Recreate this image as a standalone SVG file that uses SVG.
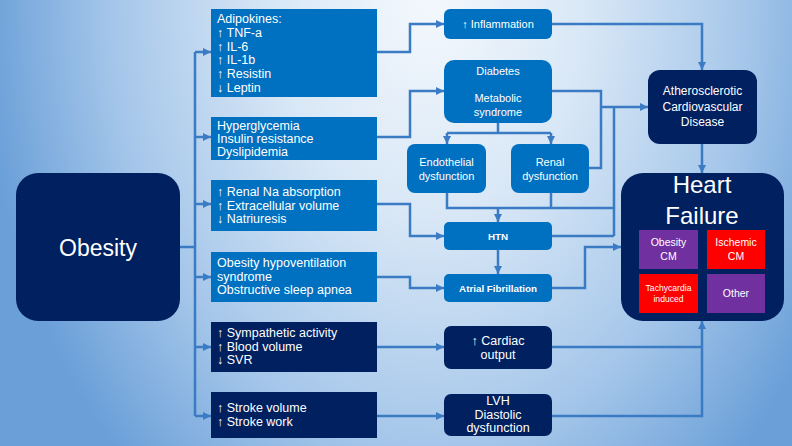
<svg xmlns="http://www.w3.org/2000/svg" width="792" height="446" viewBox="0 0 792 446">
<defs>
<radialGradient id="bg" gradientUnits="userSpaceOnUse" cx="430" cy="0" r="450" gradientTransform="translate(430,0) scale(1,1.4) translate(-430,0)">
<stop offset="0" stop-color="#f4f8fd"/>
<stop offset="0.35" stop-color="#d8e7f6"/>
<stop offset="0.7" stop-color="#a6c7ea"/>
<stop offset="1" stop-color="#6a9fd8"/>
</radialGradient>
<marker id="ah" markerUnits="userSpaceOnUse" markerWidth="8" markerHeight="8" refX="8" refY="4" orient="auto">
<path d="M0,0 L8,4 L0,8 z" fill="#3a7bc4"/>
</marker>
<style>
.mid{fill:#0070c0}
.dark{fill:#002060}
.t{font-family:"Liberation Sans",Arial,sans-serif;fill:#ffffff}
.l{font-size:12.5px}
.c{text-anchor:middle}
.con path{fill:none;stroke:#3a7bc4;stroke-width:2.5}
.arr{marker-end:url(#ah)}
</style>
</defs>
<rect width="792" height="446" fill="url(#bg)"/>

<g id="connectors" class="con">
<path d="M180,247 H195"/>
<path d="M195,52 V416"/>
<path class="arr" d="M195,52 H211"/>
<path class="arr" d="M195,137 H211"/>
<path class="arr" d="M195,204 H211"/>
<path class="arr" d="M195,277 H211"/>
<path class="arr" d="M195,347 H211"/>
<path class="arr" d="M195,416 H211"/>
<path class="arr" d="M377,52 H410 V24 H444"/>
<path class="arr" d="M377,137 H410 V91 H444"/>
<path class="arr" d="M377,204 H410 V236 H444"/>
<path class="arr" d="M377,277 H410 V288 H444"/>
<path class="arr" d="M377,347 H444"/>
<path class="arr" d="M377,416 H444"/>
<path class="arr" d="M552,24 H702 V70"/>
<path d="M552,91 H601 V168 H589"/>
<path class="arr" d="M601,107 H648"/>
<path d="M614,107 V236"/>
<path d="M552,236 H614"/>
<path d="M498,123 V133"/>
<path d="M447,133 H551"/>
<path class="arr" d="M447,133 V144"/>
<path class="arr" d="M551,133 V144"/>
<path d="M447,193 V208 H614"/>
<path d="M551,193 V208"/>
<path class="arr" d="M498,208 V222"/>
<path class="arr" d="M498,250 V274"/>
<path class="arr" d="M552,288 H585 V247 H621"/>
<path class="arr" d="M702,144 V173"/>
<path d="M552,347 H702"/>
<path class="arr" d="M552,416 H702 V321"/>
</g>

<g id="obesity">
<rect class="dark" x="16" y="173" width="164" height="148" rx="22"/>
<text class="t c" x="98" y="256" font-size="23">Obesity</text>
</g>

<g id="adipokines">
<rect class="mid" x="211" y="9" width="166" height="88"/>
<text class="t l" x="217" y="23">Adipokines:</text>
<text class="t l" x="217" y="37">↑ TNF-a</text>
<text class="t l" x="217" y="51">↑ IL-6</text>
<text class="t l" x="217" y="64">↑ IL-1b</text>
<text class="t l" x="217" y="78">↑ Resistin</text>
<text class="t l" x="217" y="92">↓ Leptin</text>
</g>

<g id="hyperglycemia">
<rect class="mid" x="211" y="117" width="166" height="43"/>
<text class="t l" x="217" y="130">Hyperglycemia</text>
<text class="t l" x="217" y="143">Insulin resistance</text>
<text class="t l" x="217" y="156">Dyslipidemia</text>
</g>

<g id="renal-na">
<rect class="mid" x="211" y="180" width="166" height="51"/>
<text class="t l" x="217" y="196">↑ Renal Na absorption</text>
<text class="t l" x="217" y="210">↑ Extracellular volume</text>
<text class="t l" x="217" y="223">↓ Natriuresis</text>
</g>

<g id="hypoventilation">
<rect class="mid" x="211" y="252" width="166" height="50"/>
<text class="t l" x="217" y="267">Obesity hypoventilation</text>
<text class="t l" x="217" y="281">syndrome</text>
<text class="t l" x="217" y="294">Obstructive sleep apnea</text>
</g>

<g id="sympathetic">
<rect class="dark" x="211" y="322" width="166" height="50"/>
<text class="t l" x="217" y="337">↑ Sympathetic activity</text>
<text class="t l" x="217" y="351">↑ Blood volume</text>
<text class="t l" x="217" y="364">↓ SVR</text>
</g>

<g id="stroke">
<rect class="dark" x="211" y="392" width="166" height="46"/>
<text class="t l" x="217" y="412">↑ Stroke volume</text>
<text class="t l" x="217" y="426">↑ Stroke work</text>
</g>

<g id="inflammation">
<rect class="mid" x="444" y="9" width="108" height="30" rx="6"/>
<text class="t c" x="498" y="28" font-size="11">↑ Inflammation</text>
</g>

<g id="diabetes">
<rect class="mid" x="444" y="60" width="108" height="63" rx="10"/>
<text class="t c" x="498" y="75" font-size="11">Diabetes</text>
<text class="t c" x="498" y="102" font-size="11">Metabolic</text>
<text class="t c" x="498" y="116" font-size="11">syndrome</text>
</g>

<g id="endothelial">
<rect class="mid" x="407" y="144" width="79" height="49" rx="8"/>
<text class="t c" x="446.5" y="166" font-size="11">Endothelial</text>
<text class="t c" x="446.5" y="180" font-size="11">dysfunction</text>
</g>

<g id="renal-dysfunction">
<rect class="mid" x="511" y="144" width="78" height="49" rx="8"/>
<text class="t c" x="550" y="166" font-size="11">Renal</text>
<text class="t c" x="550" y="180" font-size="11">dysfunction</text>
</g>

<g id="htn">
<rect class="mid" x="444" y="222" width="108" height="28" rx="5"/>
<text class="t c" x="498" y="239.5" font-size="9.8" font-weight="bold">HTN</text>
</g>

<g id="af">
<rect class="mid" x="444" y="274" width="108" height="28" rx="5"/>
<text class="t c" x="498" y="291.5" font-size="9.8" font-weight="bold">Atrial Fibrillation</text>
</g>

<g id="cardiac-output">
<rect class="dark" x="444" y="326" width="108" height="43" rx="7"/>
<text class="t c l" x="498" y="345">↑ Cardiac</text>
<text class="t c l" x="498" y="359">output</text>
</g>

<g id="lvh">
<rect class="dark" x="444" y="394" width="108" height="42" rx="7"/>
<text class="t c l" x="498" y="405">LVH</text>
<text class="t c l" x="498" y="419">Diastolic</text>
<text class="t c l" x="498" y="432">dysfunction</text>
</g>

<g id="ascvd">
<rect class="dark" x="648" y="70" width="109" height="74" rx="12"/>
<text class="t c" x="702.5" y="95" font-size="12">Atherosclerotic</text>
<text class="t c" x="702.5" y="110.5" font-size="12">Cardiovascular</text>
<text class="t c" x="702.5" y="126" font-size="12">Disease</text>
</g>

<g id="heart-failure">
<rect class="dark" x="621" y="173" width="163" height="148" rx="22"/>
<text class="t c" x="702" y="193" font-size="24">Heart</text>
<text class="t c" x="702" y="224" font-size="24">Failure</text>
<g id="obesity-cm">
<rect x="639" y="230" width="59" height="39" fill="#7030a0"/>
<text class="t c" x="668.5" y="246" font-size="10.5">Obesity</text>
<text class="t c" x="668.5" y="260" font-size="10.5">CM</text>
</g>
<g id="ischemic-cm">
<rect x="707" y="230" width="58" height="39" fill="#ff0000"/>
<text class="t c" x="736" y="246" font-size="10.5">Ischemic</text>
<text class="t c" x="736" y="260" font-size="10.5">CM</text>
</g>
<g id="tachycardia">
<rect x="639" y="274" width="59" height="39" fill="#ff0000"/>
<text class="t c" x="668.5" y="291" font-size="8.6">Tachycardia</text>
<text class="t c" x="668.5" y="302" font-size="8.6">induced</text>
</g>
<g id="other">
<rect x="707" y="274" width="58" height="39" fill="#7030a0"/>
<text class="t c" x="736" y="297" font-size="10.5">Other</text>
</g>
</g>
</svg>
